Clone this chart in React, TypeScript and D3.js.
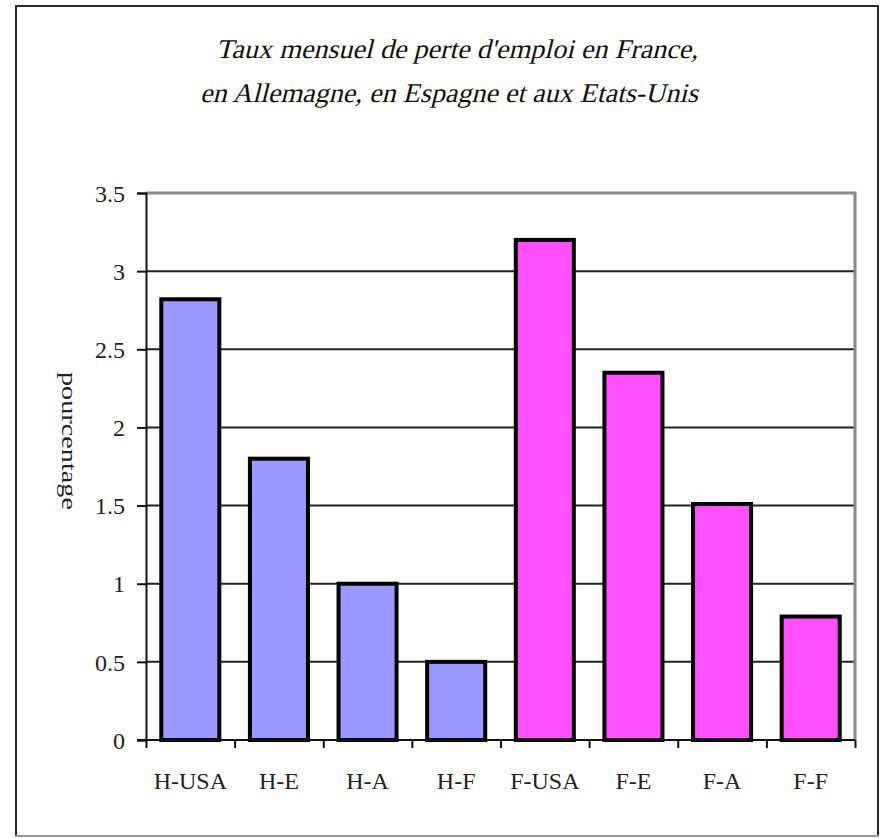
import React, { useEffect, useRef } from 'react';
import * as d3 from 'd3';

const categories = ['H-USA', 'H-E', 'H-A', 'H-F', 'F-USA', 'F-E', 'F-A', 'F-F'];
const values = [2.82, 1.8, 1.0, 0.5, 3.2, 2.35, 1.51, 0.79];
const barColors = ['#9999ff', '#9999ff', '#9999ff', '#9999ff', '#ff4fff', '#ff4fff', '#ff4fff', '#ff4fff'];
const yTicks = [0, 0.5, 1, 1.5, 2, 2.5, 3, 3.5];
const titleLines = ["Taux mensuel de perte d'emploi en France,", 'en Allemagne, en Espagne et aux Etats-Unis'];
const yLabel = 'pourcentage';

function drawChart(svgRoot: SVGSVGElement) {
    const svg = d3.select(svgRoot);
    svg.selectChildren().remove();

    const width = 880;
    const height = 838;
    const plot = { left: 146, right: 855, top: 193, bottom: 740 };
    const font = 'Liberation Serif';

    svg.attr('width', width).attr('height', height).attr('viewBox', [0, 0, width, height] as any);

    // outer frame
    svg.append('rect')
        .attr('x', 16).attr('y', 6)
        .attr('width', 862).attr('height', 830)
        .attr('fill', '#fff')
        .attr('stroke', '#2a2a2a')
        .attr('stroke-width', 2);
    svg.append('line')
        .attr('x1', 15).attr('x2', 879)
        .attr('y1', 836).attr('y2', 836)
        .attr('stroke', '#999')
        .attr('stroke-width', 2);

    // title (italic faked with skew, widths fitted to the picture)
    const titleFits = [{ x: 216, y: 58, len: 482 }, { x: 200, y: 102, len: 498 }];
    svg.append('g')
        .selectAll('text')
        .data(titleLines)
        .enter().append('text')
        .attr('transform', (d, i) => `translate(${titleFits[i].x},${titleFits[i].y}) skewX(-14)`)
        .attr('textLength', (d, i) => titleFits[i].len)
        .attr('lengthAdjust', 'spacingAndGlyphs')
        .attr('font-family', font)
        .attr('font-size', 27)
        .attr('fill', '#111')
        .text((d) => d);

    const x = d3.scaleBand<string>()
        .domain(categories)
        .range([plot.left, plot.right])
        .paddingInner(0.345)
        .paddingOuter(0.1725);

    const xTickScale = d3.scaleLinear().domain([0, categories.length]).range([plot.left, plot.right]);
    const xBandCenter = d3.scaleLinear().domain([0, categories.length]).range([plot.left, plot.right]);

    const y = d3.scaleLinear().domain([0, 3.5]).range([plot.bottom, plot.top]);

    // gridlines
    svg.append('g')
        .selectAll('line')
        .data(yTicks.filter((t) => t > 0 && t < 3.5))
        .enter().append('line')
        .attr('x1', plot.left).attr('x2', plot.right)
        .attr('y1', (d) => y(d)).attr('y2', (d) => y(d))
        .attr('stroke', '#222')
        .attr('stroke-width', 2);

    // plot border top / right (gray)
    svg.append('path')
        .attr('d', `M${plot.left},${y(3.5)}H${plot.right}V${plot.bottom}`)
        .attr('fill', 'none')
        .attr('stroke', '#8a8a8a')
        .attr('stroke-width', 3);

    // bars
    svg.append('g')
        .selectAll('rect')
        .data(values)
        .enter().append('rect')
        .attr('x', (d, i) => x(categories[i])!)
        .attr('y', (d) => y(d))
        .attr('width', x.bandwidth())
        .attr('height', (d) => y(0) - y(d))
        .attr('fill', (d, i) => barColors[i])
        .attr('stroke', '#000')
        .attr('stroke-width', 4);

    // y axis
    const yAxis = svg.append('g')
        .attr('transform', `translate(${plot.left},0)`)
        .call(d3.axisLeft(y).tickValues(yTicks).tickSize(9).tickPadding(12).tickFormat((d) => String(d)));
    yAxis.select('.domain').attr('stroke', '#111').attr('stroke-width', 2);
    yAxis.selectAll('.tick line').attr('stroke', '#111').attr('stroke-width', 2);
    yAxis.selectAll('.tick text')
        .attr('font-family', font)
        .attr('font-size', 24)
        .attr('dy', '0.34em')
        .attr('fill', '#222');

    // x axis
    const xAxis = svg.append('g')
        .attr('transform', `translate(0,${plot.bottom})`)
        .call(d3.axisBottom(xTickScale).tickValues(d3.range(categories.length + 1)).tickSize(8).tickFormat(() => ''));
    xAxis.select('.domain').attr('stroke', '#111').attr('stroke-width', 2).attr('d', `M${plot.left - 9},0H${plot.right}`);
    xAxis.selectAll('.tick line').attr('stroke', '#111').attr('stroke-width', 2);

    // category labels
    svg.append('g')
        .selectAll('text')
        .data(categories)
        .enter().append('text')
        .attr('x', (d, i) => xBandCenter(i + 0.5))
        .attr('y', 789)
        .attr('text-anchor', 'middle')
        .attr('font-family', font)
        .attr('font-size', 24)
        .attr('fill', '#222')
        .text((d) => d);

    // y label
    svg.append('text')
        .attr('transform', `translate(62,441) rotate(90)`)
        .attr('x', -69)
        .attr('textLength', 138)
        .attr('lengthAdjust', 'spacingAndGlyphs')
        .attr('font-family', font)
        .attr('font-size', 22)
        .attr('fill', '#222')
        .text(yLabel);
}

export default function App() {
    const svgRef = useRef<SVGSVGElement>(null);

    useEffect(() => {
        svgRef.current && drawChart(svgRef.current);
    }, []);

    return (
        <div style={{ position: 'absolute', left: 0, top: 0, width: 880, height: 838, overflow: 'hidden' }}>
            <svg ref={svgRef} style={{ display: 'block' }}></svg>
        </div>
    );
}
